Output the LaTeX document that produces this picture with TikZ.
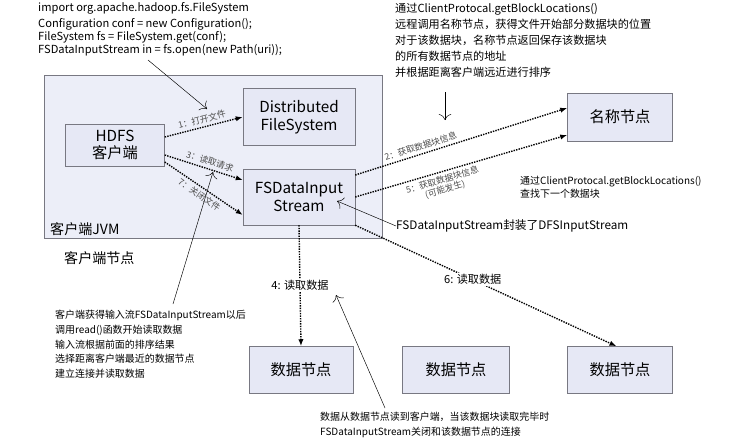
\documentclass[tikz,border=0pt]{standalone}
\usepackage{fontspec}
\setmainfont{Noto Sans CJK SC}
\usepackage{tikz}
\usetikzlibrary{arrows.meta}
\definecolor{boxfill}{RGB}{230,232,245}
\definecolor{jvmfill}{RGB}{236,238,248}
\definecolor{boxline}{RGB}{120,120,130}

\begin{document}
\begin{tikzpicture}[x=0.03cm, y=-0.03cm,
    box/.style={draw=boxline, fill=boxfill, minimum width=#1, align=center, font=\fontsize{13}{15}\selectfont, inner sep=0pt},
    box/.default=3cm,
    flow/.style={very thick, densely dotted, -{Latex[length=6pt]}},
    note/.style={thin, -{To[length=5pt]}},
    lbl/.style={font=\fontsize{7.5}{8.5}\selectfont, text=black!70, sloped, above, inner sep=2.5pt},
    txt/.style={font=\fontsize{9.5}{11.5}\selectfont, align=left, anchor=north west, inner sep=0pt}]
  \useasboundingbox (0,0) rectangle (732,444);

  % client JVM frame
  \draw[boxline, fill=jvmfill] (44,75) rectangle (382,238);
  \node[anchor=south west, inner sep=0pt, font=\fontsize{12}{14}\selectfont] (jvm) at (50,236) {客户端JVM};
  \node[anchor=west, inner sep=0pt, font=\fontsize{12}{14}\selectfont] (clientnode) at (64,258) {客户端节点};

  % nodes
  \node[box=2.97cm, minimum height=1.26cm] (client) at (115,145) {HDFS\\客户端};
  \node[box=3.36cm, minimum height=1.71cm] (dfs) at (299,117) {Distributed\\FileSystem};
  \node[box=3.36cm, minimum height=1.68cm] (fsin) at (299,197) {FSDataInput\\Stream};
  \node[box=3.15cm, minimum height=1.44cm] (name) at (620,117) {名称节点};
  \node[box=3.12cm, minimum height=1.41cm] (data1) at (301,370) {数据节点};
  \node[box=3.21cm, minimum height=1.41cm] (data2) at (456,370) {数据节点};
  \node[box=3.15cm, minimum height=1.41cm] (data3) at (620,370) {数据节点};

  % flows
  \draw[flow] (client.east |- 0,137) -- node[lbl] {1：打开文件} (dfs.west |- 0,117);
  \draw[flow] (client.east |- 0,155) -- node[lbl, pos=0.55] {3：读取请求} (fsin.west |- 0,180);
  \draw[flow] (client.east |- 0,162) -- node[lbl, below, pos=0.5] {7：关闭文件} (fsin.west |- 0,215);
  \draw[flow] (fsin.east |- 0,175) -- node[lbl, pos=0.32] {2：获取数据块信息} (name.west |- 0,108);
  \draw[flow] (fsin.east |- 0,197) -- node[lbl, below, pos=0.4, align=center] {5：获取数据块信息\\(可能发生)} (name.west |- 0,135);
  \draw[flow] (fsin.south) -- node[fill=white, inner sep=1pt, font=\fontsize{9.5}{11}\selectfont, pos=0.5] {4: 读取数据} (data1.north);
  \draw[flow] (fsin.south east) -- node[fill=white, inner sep=1pt, font=\fontsize{9.5}{11}\selectfont, pos=0.45] {6: 读取数据} ([xshift=-3pt]data3.north);

  % annotations
  \node[txt, font=\fontsize{9.5}{11}\selectfont] (code1) at (38,2) {import org.apache.hadoop.fs.FileSystem};
  \node[txt, font=\fontsize{9.5}{11}\selectfont] (code2) at (38,18) {Configuration conf = new Configuration();\\FileSystem fs = FileSystem.get(conf);\\FSDataInputStream in = fs.open(new Path(uri));};
  \node[txt, font=\fontsize{9.5}{13.6}\selectfont] (nametxt) at (395,3) {通过ClientProtocal.getBlockLocations()\\远程调用名称节点，获得文件开始部分数据块的位置\\对于该数据块，名称节点返回保存该数据块\\的所有数据节点的地址\\并根据距离客户端远近进行排序};
  \node[txt, font=\fontsize{8.5}{11}\selectfont] (nexttxt) at (520,176) {通过ClientProtocal.getBlockLocations()\\查找下一个数据块};
  \node[txt, anchor=west, font=\fontsize{10}{12}\selectfont] (wraptxt) at (396,226) {FSDataInputStream封装了DFSInputStream};
  \node[txt, font=\fontsize{8.5}{12.6}\selectfont] (readtxt) at (55,310) {客户端获得输入流FSDataInputStream以后\\调用read()函数开始读取数据\\输入流根据前面的排序结果\\选择距离客户端最近的数据节点\\建立连接并读取数据};
  \node[txt, font=\fontsize{8.5}{12.6}\selectfont] (closetxt) at (320,412) {数据从数据节点读到客户端，当该数据块读取完毕时\\FSDataInputStream关闭和该数据节点的连接};

  \coordinate (c1) at (148,60);
  \coordinate (c2) at (207,109);
  \draw[note] (c1) -- (c2);
  \coordinate (n1) at (445,92);
  \coordinate (n2) at (445,120);
  \draw[note] (n1) -- (n2);
  \draw[note] (wraptxt.west) -- (337,201);
  \coordinate (r1) at (173,304);
  \draw[note] (r1) -- (213,172);
  \coordinate (b1) at (385,408);
  \draw[note] (b1) -- (336,295);
\end{tikzpicture}
\end{document}
